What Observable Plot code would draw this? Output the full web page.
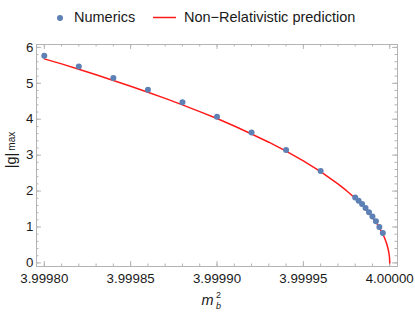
<!DOCTYPE html>
<html><head><meta charset="utf-8">
<script src="https://cdn.jsdelivr.net/npm/d3@7"></script>
<script src="https://cdn.jsdelivr.net/npm/@observablehq/plot@0.6"></script>
<style>
body{margin:0;background:#fff;font-family:"Liberation Sans",Arial,sans-serif;}
#legend{position:relative;height:32px;width:415px;font-size:14.5px;color:#1a1a1a;}
#legend span{position:absolute;line-height:14.5px;white-space:nowrap;}
#chart svg{display:block;}
</style></head><body>
<div id="legend">
  <svg width="415" height="32" style="position:absolute;left:0;top:0">
    <circle cx="60" cy="18" r="3" fill="#5e81b5"></circle>
    <line x1="153" x2="176" y1="17.5" y2="17.5" stroke="#ff1a1a" stroke-width="1.5"></line>
  </svg>
  <span style="left:74px;top:10px">Numerics</span>
  <span style="left:184px;top:10px">Non−Relativistic prediction</span>
</div>
<div id="chart"></div>
<script>
// Numerical data points (m_b^2, |g|_max)
const numericsX = [3.99980, 3.99982, 3.99984, 3.99986, 3.99988, 3.99990, 3.99992, 3.99994, 3.99996,
                   3.999980, 3.999982, 3.999984, 3.999986, 3.999988, 3.999990, 3.999992, 3.999994, 3.999996];
const numericsY = [5.77, 5.47, 5.15, 4.82, 4.47, 4.07, 3.63, 3.14, 2.56,
                   1.82, 1.73, 1.64, 1.53, 1.41, 1.29, 1.16, 1.00, 0.83];

// Non-relativistic prediction curve: distance below 4 (in 1e-6) and |g|_max
const curveDeficit = [200, 190, 180, 170, 160, 150, 140, 130, 120, 110, 100, 90, 80, 70, 60, 50, 40, 30, 25, 20, 16, 12, 10, 8, 6, 4, 3, 2, 1.5, 1, 0.6, 0.3, 0.1, 0];
const curveY       = [5.68, 5.54, 5.39, 5.24, 5.08, 4.92, 4.75, 4.58, 4.40, 4.21, 4.02, 3.81, 3.59, 3.36, 3.11, 2.84, 2.54, 2.20, 2.01, 1.80, 1.61, 1.39, 1.27, 1.14, 0.98, 0.80, 0.70, 0.57, 0.49, 0.40, 0.31, 0.22, 0.13, 0];

// Tick labels
const xMajorTicks = [3.99980, 3.99985, 3.99990, 3.99995, 4.00000];
const yMajorTicks = [0, 1, 2, 3, 4, 5, 6];

const numerics = numericsX.map((x, i) => ({x, y: numericsY[i]}));
const curve = curveDeficit.map((d, i) => ({x: 4 - d * 1e-6, y: curveY[i]}));
const xMinorTicks = d3.range(0, 21).map(i => +(3.9998 + i * 0.00001).toFixed(6));
const yMinorTicks = d3.range(0, 31).map(i => +(i * 0.2).toFixed(2));

const W = 415, H = 281, mT = 12, mB = 47, mL = 36, mR = 18;
const innerW = W - mL - mR, innerH = H - mT - mB;
const minorLen = 2.5, majorLen = 5;

const frameColor = "#b4b4b4";
const textColor = "#1a1a1a";

const chart = Plot.plot({
  width: W, height: H,
  marginTop: mT, marginBottom: mB, marginLeft: mL, marginRight: mR,
  style: {fontFamily: "Liberation Sans, Arial, sans-serif", fontSize: "13.3px", color: textColor, background: "#fff"},
  x: {domain: [3.9997955, 4.0000045]},
  y: {domain: [-0.1, 6.08]},
  marks: [
    // inward ticks (bottom / top)
    Plot.ruleX(xMinorTicks, {x: d => d, insetTop: innerH - minorLen, stroke: frameColor}),
    Plot.ruleX(xMajorTicks, {x: d => d, insetTop: innerH - majorLen, stroke: frameColor}),
    Plot.ruleX(xMinorTicks, {x: d => d, insetBottom: innerH - minorLen, stroke: frameColor}),
    Plot.ruleX(xMajorTicks, {x: d => d, insetBottom: innerH - majorLen, stroke: frameColor}),
    // inward ticks (left / right)
    Plot.ruleY(yMinorTicks, {y: d => d, insetRight: innerW - minorLen, stroke: frameColor}),
    Plot.ruleY(yMajorTicks, {y: d => d, insetRight: innerW - majorLen, stroke: frameColor}),
    Plot.ruleY(yMinorTicks, {y: d => d, insetLeft: innerW - minorLen, stroke: frameColor}),
    Plot.ruleY(yMajorTicks, {y: d => d, insetLeft: innerW - majorLen, stroke: frameColor}),
    Plot.frame({stroke: frameColor}),
    Plot.axisX(xMajorTicks, {anchor: "bottom", tickSize: 0, tickPadding: 7, tickFormat: d3.format(".5f"), fill: textColor, label: null}),
    Plot.axisY(yMajorTicks, {anchor: "left", tickSize: 0, tickPadding: 3, tickFormat: d3.format("d"), fill: textColor, label: null}),
    Plot.line(curve, {x: "x", y: "y", stroke: "#ff1a1a", strokeWidth: 1.5}),
    Plot.dot(numerics, {x: "x", y: "y", r: 3, fill: "#5e81b5", stroke: "none"})
  ]
});

const svg = d3.select(chart);
// x label: m_b^2
const xl = svg.append("text").attr("font-family", "Liberation Sans, Arial, sans-serif").attr("fill", textColor);
xl.append("tspan").attr("x", 207.5).attr("y", 273).attr("font-size", 14.5).attr("font-style", "italic").text("m");
const xs = svg.append("text").attr("font-family", "Liberation Sans, Arial, sans-serif").attr("fill", textColor).attr("font-size", 9);
xs.append("tspan").attr("x", 218.5).attr("y", 266).text("2");
const xb = svg.append("text").attr("font-family", "Liberation Sans, Arial, sans-serif").attr("fill", textColor).attr("font-size", 9).attr("font-style", "italic");
xb.append("tspan").attr("x", 218.5).attr("y", 277).text("b");
// y label: |g|_max
const yl = svg.append("text").attr("font-family", "Liberation Sans, Arial, sans-serif").attr("fill", textColor)
  .attr("transform", "translate(16,118) rotate(-90)").attr("text-anchor", "middle");
yl.append("tspan").attr("font-size", 14.5).text("|g|");
yl.append("tspan").attr("font-size", 10).attr("dx", 2).attr("dy", -1).text("max");

document.getElementById("chart").appendChild(chart);
</script>
</body></html>
